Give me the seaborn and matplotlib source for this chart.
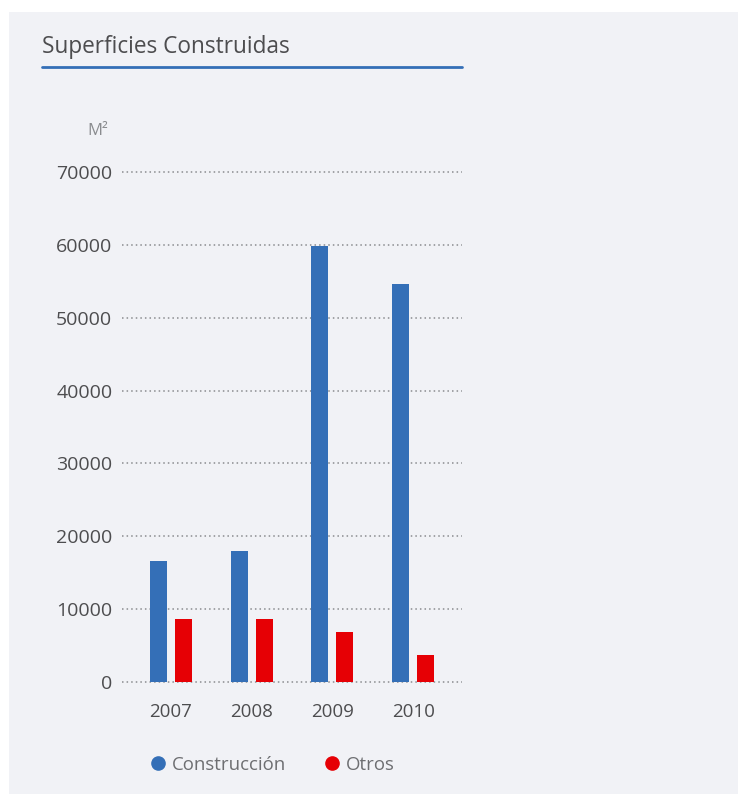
import matplotlib
matplotlib.use("Agg")
import matplotlib.pyplot as plt
from matplotlib.lines import Line2D
from matplotlib.patches import Rectangle
import seaborn as sns
import pandas as pd

years = ["2007", "2008", "2009", "2010"]
construccion = [16600, 18000, 59800, 54600]
otros = [8600, 8600, 6800, 3700]
series_names = ["Construcción", "Otros"]
yticks = [0, 10000, 20000, 30000, 40000, 50000, 60000, 70000]

df = pd.DataFrame({
    "year": years * 2,
    "value": construccion + otros,
    "serie": [series_names[0]] * 4 + [series_names[1]] * 4,
})

sns.set_theme(style="white")
plt.rcParams["font.family"] = ["Open Sans", "DejaVu Sans"]

W, H = 738, 794
fig = plt.figure(figsize=(W / 100, H / 100), dpi=100)
fig.patch.set_facecolor("white")
bg = "#f1f2f6"
fig.patches.append(Rectangle((9 / W, 0), 1 - 9 / W, 1 - 12 / H, transform=fig.transFigure,
                             facecolor=bg, edgecolor="none", zorder=-10))

ppu = 510 / 70000
ylo, yhi = -1000, 71000
y0px = 682 + 1000 * ppu
y1px = 172 - 1000 * ppu
ax = fig.add_axes([122 / W, 1 - y0px / H, 340 / W, (y0px - y1px) / H])
ax.set_facecolor(bg)

colors = ["#346fb7", "#e60005"]
sns.barplot(data=df, x="year", y="value", hue="serie", palette=colors, ax=ax,
            width=0.617, gap=0.32, legend=False, saturation=1, linewidth=0)

ax.set_xlim(-0.6, 3.6)
ax.set_ylim(ylo, yhi)
ax.set_yticks(yticks)
ax.set_yticklabels([str(t) for t in yticks])
for t in yticks:
    ax.axhline(t, color="#8a8c8f", lw=1.1, ls=(0, (1, 2)), zorder=0)
for s in ax.spines.values():
    s.set_visible(False)
ax.set_xlabel("")
ax.set_ylabel("")
ax.tick_params(axis="y", length=0, pad=7, labelsize=14, labelcolor="#4d4d4f")
ax.tick_params(axis="x", length=0, pad=10, labelsize=13.5, labelcolor="#4d4d4f")

# title & underline
fig.text(42 / W, 1 - 47 / H, "Superficies Construidas", fontsize=16.3, color="#4d4d4f",
         ha="left", va="center")
fig.add_artist(Line2D([42 / W, 462 / W], [1 - 67 / H, 1 - 67 / H], color="#346fb7", lw=2,
                      transform=fig.transFigure))
fig.text(108 / W, 1 - 131 / H, "M²", fontsize=12, color="#8a8c8f", ha="right", va="center")

handles = [Line2D([], [], marker="o", ls="none", markersize=9.5, color=c) for c in colors]
leg = fig.legend(handles, series_names, loc="center left", bbox_to_anchor=(146 / W, 1 - 765 / H),
                 ncol=2, frameon=False, fontsize=13.4, handletextpad=0.1, columnspacing=1.8,
                 handlelength=1.3, borderpad=0, borderaxespad=0)
for t in leg.get_texts():
    t.set_color("#6d6e71")

fig.savefig("out.png", dpi=100, facecolor=fig.get_facecolor())
